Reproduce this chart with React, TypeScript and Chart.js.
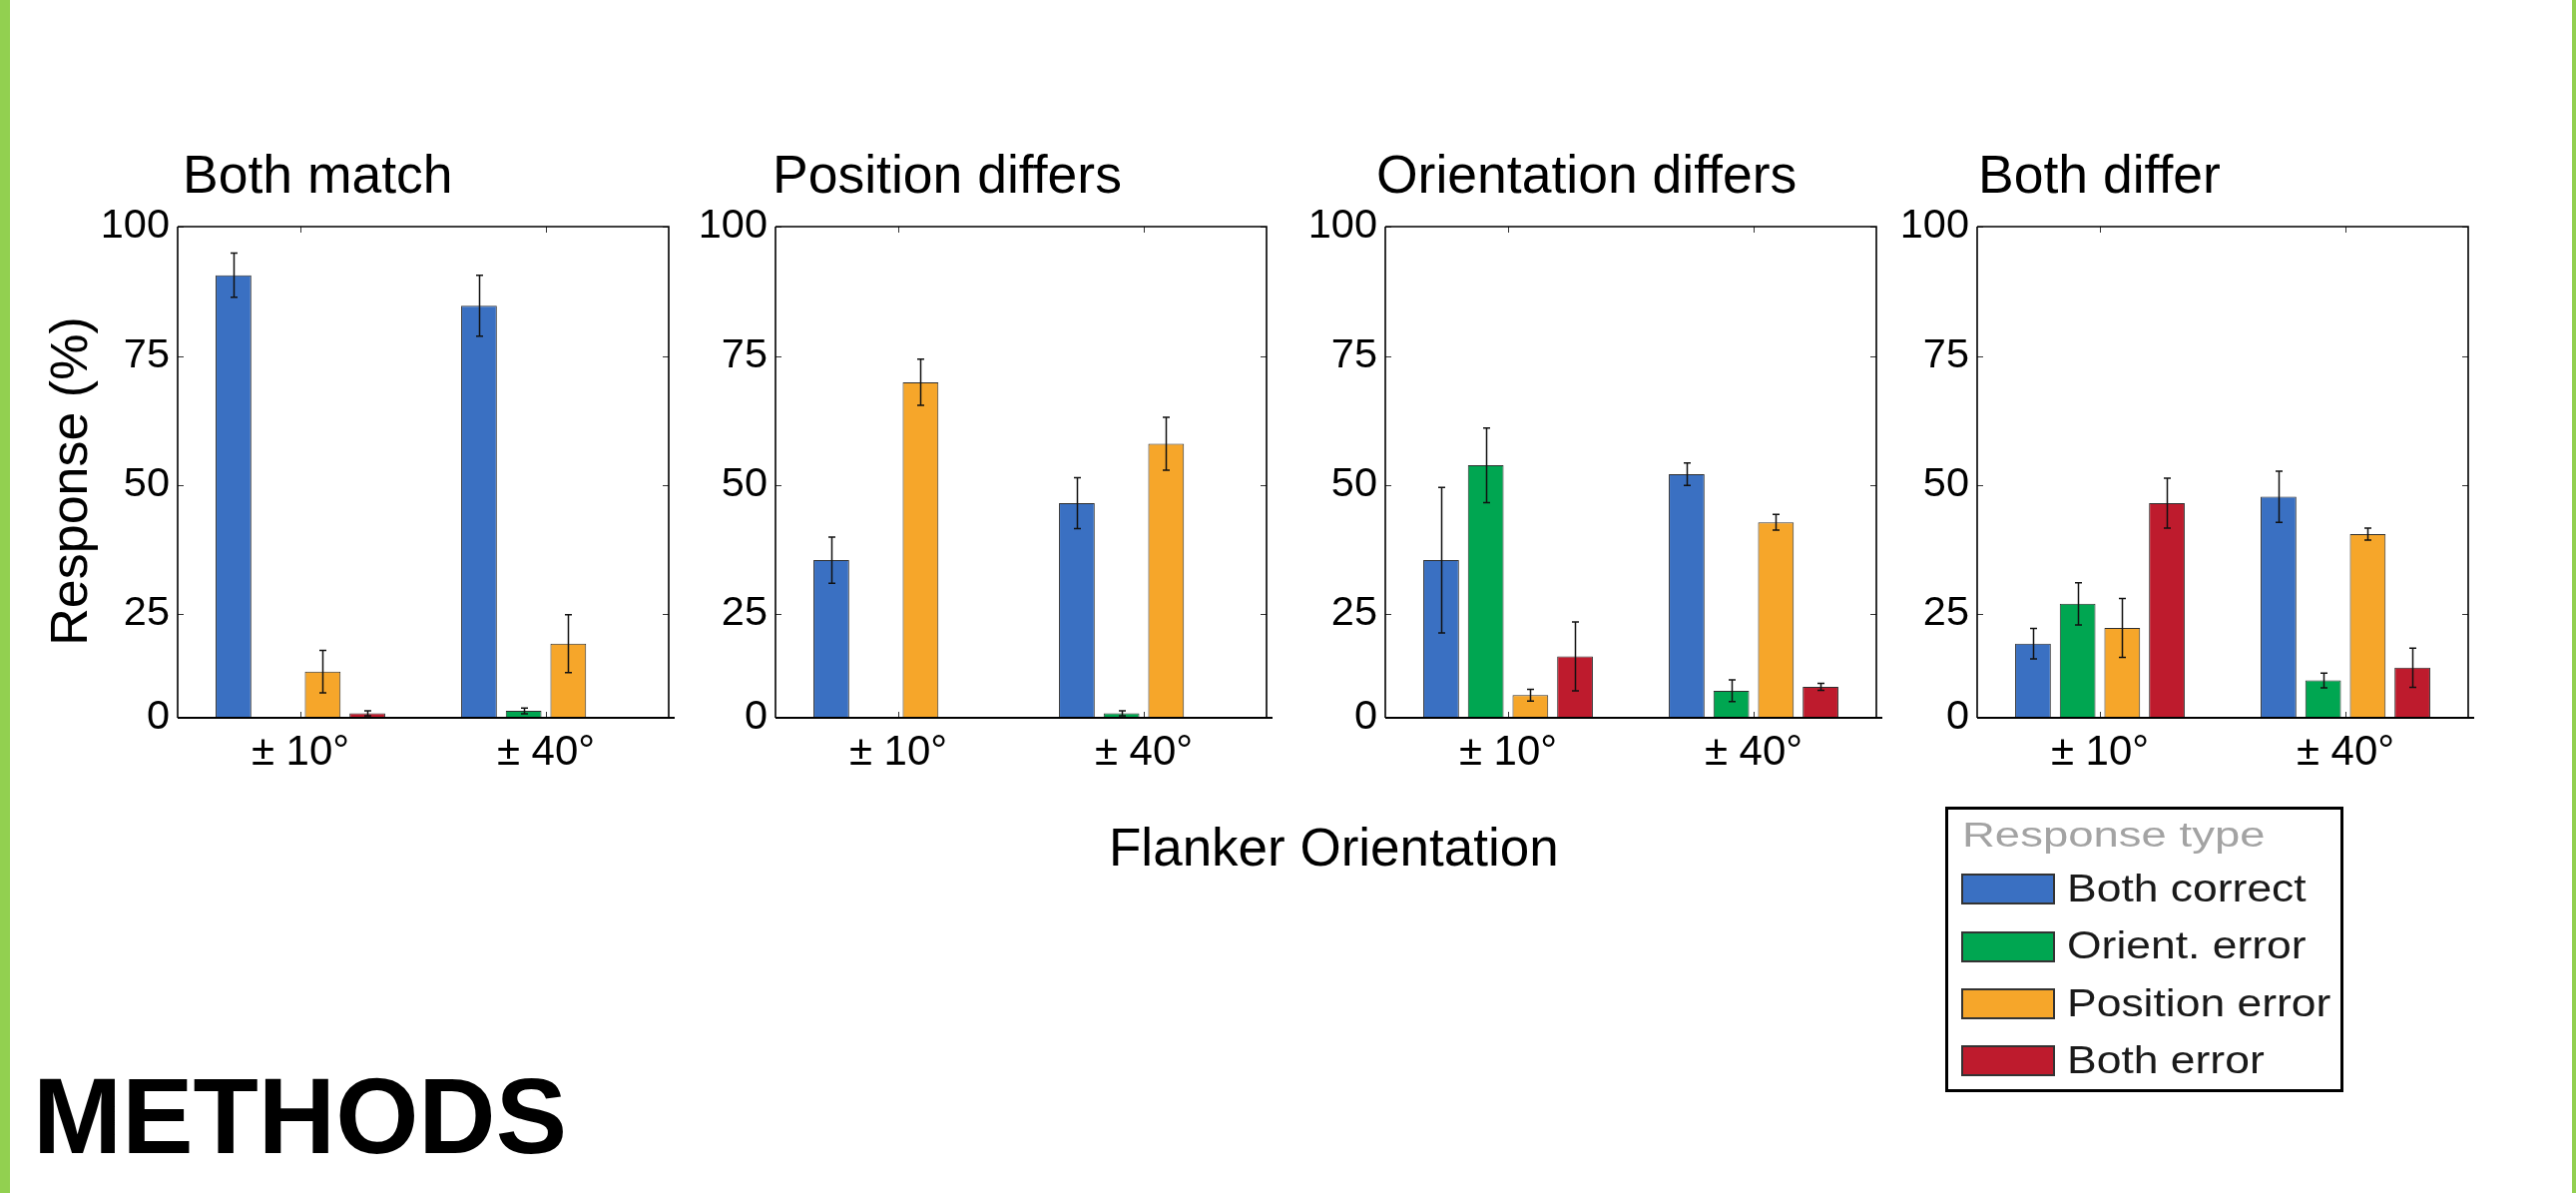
import React, { useEffect, useRef } from "react";
import { Chart, registerables } from "chart.js";

Chart.register(...registerables);

// ---------- data ----------
const categories = ["± 10°", "± 40°"];
const panelTitles = ["Both match", "Position differs", "Orientation differs", "Both differ"];
const seriesNames = ["Both correct", "Orient. error", "Position error", "Both error"];
const seriesColors = ["#3A70C2", "#00A651", "#F6A62A", "#BE1B2D"];

// [panel][category]
const bothCorrect = [[90.1, 83.9], [32.1, 43.7], [32.1, 49.6], [15.1, 45.0]];
const orientError = [[0, 1.4], [0, 0.9], [51.4, 5.5], [23.2, 7.6]];
const positionError = [[9.4, 15.1], [68.3, 55.8], [4.6, 39.8], [18.3, 37.4]];
const bothError = [[0.9, 0], [0, 0], [12.5, 6.3], [43.7, 10.2]];

const bothCorrectErr = [[4.5, 6.2], [4.7, 5.2], [14.8, 2.3], [3.1, 5.2]];
const orientErrorErr = [[0, 0.6], [0, 0.5], [7.6, 2.2], [4.3, 1.5]];
const positionErrorErr = [[4.3, 5.9], [4.7, 5.4], [1.2, 1.6], [6.0, 1.2]];
const bothErrorErr = [[0.5, 0], [0, 0], [7.0, 0.7], [5.1, 4.0]];

const seriesValues = [bothCorrect, orientError, positionError, bothError];
const seriesErrors = [bothCorrectErr, orientErrorErr, positionErrorErr, bothErrorErr];

// tick marks as placed in the reference figure
const yTickPositions = [0, 21.2, 47.4, 73.6, 100];
const yTickLabels = ["0", "25", "50", "75", "100"];

const yAxisTitle = "Response (%)";
const xAxisTitle = "Flanker Orientation";
const legendTitle = "Response type";
const footerText = "METHODS";

// ---------- layout ----------
const FONT = "'Liberation Sans', Arial, Helvetica, sans-serif";
const AXIS_LEFTS = [178, 777, 1388, 1981];
const AXIS_TOP = 227;
const AXIS_SIZE = 492;
const Y_W = 165;
const X_H = 90;
const PAD_R = 20;
const CANVAS_TOP = 130;
const TITLE_OFFSETS = [5, -3, -9, 1];
const CW = Y_W + AXIS_SIZE + PAD_R;
const CH = AXIS_TOP - CANVAS_TOP + AXIS_SIZE + X_H;

function Panel({ index }: { index: number }) {
  const ref = useRef<HTMLCanvasElement>(null);
  const canvasLeft = AXIS_LEFTS[index] - Y_W;

  useEffect(() => {
    const canvas = ref.current;
    if (!canvas) return;

    const decor = {
      id: "decor" + index,
      afterDatasetsDraw(chart: any) {
        const ctx = chart.ctx;
        const y = chart.scales.y;
        ctx.save();
        ctx.strokeStyle = "#111";
        ctx.lineWidth = 1.5;
        chart.data.datasets.forEach((ds: any, di: number) => {
          const meta = chart.getDatasetMeta(di);
          meta.data.forEach((bar: any, j: number) => {
            const v = ds.data[j];
            const e = ds.errors[j];
            if (!e) return;
            const yt = y.getPixelForValue(v + e);
            const yb = y.getPixelForValue(Math.max(0, v - e));
            const x = Math.round(bar.x) + 0.5;
            const cap = 3.5;
            ctx.beginPath();
            ctx.moveTo(x, yt);
            ctx.lineTo(x, yb);
            ctx.moveTo(x - cap, yt);
            ctx.lineTo(x + cap, yt);
            ctx.moveTo(x - cap, yb);
            ctx.lineTo(x + cap, yb);
            ctx.stroke();
          });
        });
        ctx.restore();
      },
      afterDraw(chart: any) {
        const ctx = chart.ctx;
        const { left, right, top, bottom } = chart.chartArea;
        const x = chart.scales.x;
        const y = chart.scales.y;
        ctx.save();
        // inner tick marks
        ctx.strokeStyle = "#333";
        ctx.lineWidth = 1;
        const tl = 6;
        ctx.beginPath();
        yTickPositions.forEach((v) => {
          const py = Math.round(y.getPixelForValue(v)) + 0.5;
          ctx.moveTo(left, py);
          ctx.lineTo(left + tl, py);
          ctx.moveTo(right, py);
          ctx.lineTo(right - tl, py);
        });
        categories.forEach((_, i) => {
          const px = Math.round(x.getPixelForValue(i)) + 0.5;
          ctx.moveTo(px, top);
          ctx.lineTo(px, top + tl);
          ctx.moveTo(px, bottom);
          ctx.lineTo(px, bottom - tl);
        });
        ctx.stroke();
        // box
        ctx.strokeStyle = "#000";
        ctx.lineWidth = 1.6;
        ctx.beginPath();
        ctx.moveTo(left, top);
        ctx.lineTo(right, top);
        ctx.lineTo(right, bottom);
        ctx.moveTo(left, top);
        ctx.lineTo(left, bottom);
        ctx.stroke();
        ctx.lineWidth = 2;
        ctx.beginPath();
        ctx.moveTo(left, bottom);
        ctx.lineTo(right + 6, bottom);
        ctx.stroke();
        // panel title
        ctx.fillStyle = "#000";
        ctx.font = `53.5px ${FONT}`;
        ctx.textAlign = "left";
        ctx.textBaseline = "alphabetic";
        ctx.fillText(panelTitles[index], left + TITLE_OFFSETS[index], top - 34);
        // y axis title
        if (index === 0) {
          ctx.font = `52px ${FONT}`;
          ctx.translate(87 - canvasLeft, 482 - CANVAS_TOP);
          ctx.rotate(-Math.PI / 2);
          ctx.textAlign = "center";
          ctx.fillText(yAxisTitle, 0, 0);
        }
        ctx.restore();
      },
    };

    const chart = new Chart(canvas, {
      type: "bar",
      data: {
        labels: categories,
        datasets: seriesNames.map((name, s) => ({
          label: name,
          data: seriesValues[s][index],
          errors: seriesErrors[s][index],
          backgroundColor: seriesColors[s],
          borderColor: "#2e2e2e",
          borderWidth: 1,
          barPercentage: 0.8,
          categoryPercentage: 0.727,
        })) as any,
      },
      options: {
        animation: false,
        responsive: false,
        maintainAspectRatio: false,
        devicePixelRatio: 1,
        layout: { padding: { top: AXIS_TOP - CANVAS_TOP, right: PAD_R, left: 0, bottom: 0 } },
        plugins: {
          legend: { display: false },
          tooltip: { enabled: false },
          title: { display: false },
        },
        scales: {
          x: {
            type: "category",
            offset: true,
            grid: { display: false, drawTicks: false },
            border: { display: false },
            ticks: {
              font: { family: FONT, size: 42 },
              color: "#000",
              padding: 10,
              maxRotation: 0,
              autoSkip: false,
            },
            afterFit: (s: any) => {
              s.height = X_H;
            },
          },
          y: {
            type: "linear",
            min: 0,
            max: 100,
            grid: { display: false, drawTicks: false },
            border: { display: false },
            afterBuildTicks: (s: any) => {
              s.ticks = yTickPositions.map((v) => ({ value: v }));
            },
            ticks: {
              callback: (_v: any, i: number) => yTickLabels[i],
              font: { family: FONT, size: 41.5 },
              color: "#000",
              padding: 8,
            },
            afterFit: (s: any) => {
              s.width = Y_W;
            },
          },
        },
      } as any,
      plugins: [decor],
    });
    return () => chart.destroy();
  }, [index, canvasLeft]);

  return (
    <canvas
      ref={ref}
      width={CW}
      height={CH}
      style={{ position: "absolute", left: canvasLeft, top: CANVAS_TOP, width: CW, height: CH }}
    />
  );
}

function textTop(baseline: number, size: number) {
  return baseline - 0.8465 * size;
}

export default function App() {
  const legendLeft = 1949;
  const legendTop = 808;
  const itemBaselines = [903, 960.5, 1018, 1075.5];
  const swatchTops = [875, 933, 990, 1047];
  return (
    <div
      style={{
        position: "absolute",
        left: 0,
        top: 0,
        width: 2581,
        height: 1195,
        background: "#fff",
        overflow: "hidden",
        fontFamily: FONT,
      }}
    >
      <div style={{ position: "absolute", left: 0, top: 0, width: 10, height: 1195, background: "#92D050" }} />
      <div style={{ position: "absolute", left: 2577, top: 0, width: 4, height: 1195, background: "#92D050" }} />

      {panelTitles.map((_, i) => (
        <Panel key={i} index={i} />
      ))}

      <div
        style={{
          position: "absolute",
          left: 1111,
          top: textTop(867, 53),
          fontSize: 53,
          lineHeight: "53px",
          whiteSpace: "nowrap",
          color: "#000",
        }}
      >
        {xAxisTitle}
      </div>

      <div
        style={{
          position: "absolute",
          left: 33,
          top: textTop(1156, 107),
          fontSize: 107,
          lineHeight: "107px",
          fontWeight: "bold",
          whiteSpace: "nowrap",
          color: "#000",
        }}
      >
        {footerText}
      </div>

      {/* legend */}
      <div
        style={{
          position: "absolute",
          left: legendLeft,
          top: legendTop,
          width: 399,
          height: 286,
          boxSizing: "border-box",
          border: "3px solid #000",
          background: "#fff",
        }}
      />
      <div style={{ position: "absolute", left: 0, top: 0, filter: "blur(0.6px)" }}>
        <div
          style={{
            position: "absolute",
            left: 1966,
            top: textTop(848, 35),
            fontSize: 35,
            lineHeight: "35px",
            whiteSpace: "nowrap",
            color: "#A3A3A3",
            transform: "scaleX(1.3)",
            transformOrigin: "left center",
          }}
        >
          {legendTitle}
        </div>
        {seriesNames.map((name, s) => (
          <React.Fragment key={name}>
            <div
              style={{
                position: "absolute",
                left: 1965,
                top: swatchTops[s],
                width: 94,
                height: 31,
                boxSizing: "border-box",
                border: "2px solid #333",
                background: seriesColors[s],
              }}
            />
            <div
              style={{
                position: "absolute",
                left: 2071,
                top: textTop(itemBaselines[s], 38),
                fontSize: 38,
                lineHeight: "38px",
                whiteSpace: "nowrap",
                color: "#1a1a1a",
                transform: "scaleX(1.17)",
                transformOrigin: "left center",
              }}
            >
              {name}
            </div>
          </React.Fragment>
        ))}
      </div>
    </div>
  );
}
